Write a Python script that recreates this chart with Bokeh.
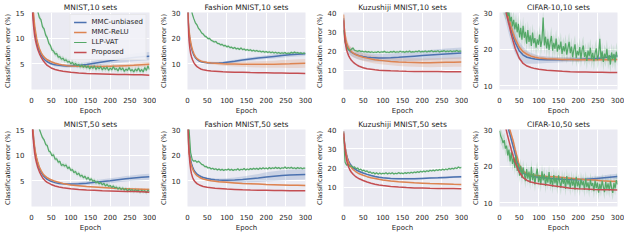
from bokeh.plotting import figure
from bokeh.layouts import gridplot
from bokeh.models import Range1d, FixedTicker, Legend, LegendItem
from bokeh.embed import file_html
from bokeh.resources import INLINE

# ---------------- data ----------------
EPOCHS = [0, 2, 4, 6, 8, 10, 13, 16, 20, 25, 30, 35, 40, 50, 60, 70, 80, 90, 100,
          120, 140, 160, 180, 200, 220, 240, 260, 280, 300]
X_TICKS = [0, 50, 100, 150, 200, 250, 300]
SERIES_NAMES = ["MMC-unbiased", "MMC-ReLU", "LLP-VAT", "Proposed"]

# MNIST, 10 sets
mn10_red = [22, 16, 13.5, 11.8, 10.5, 9.6, 8.6, 7.8, 7.0, 6.2, 5.6, 5.1, 4.7, 4.2, 3.9, 3.7, 3.55, 3.45, 3.35,
            3.2, 3.1, 3.05, 3.0, 2.95, 2.9, 2.9, 2.85, 2.85, 2.8]
mn10_orange = [25, 19, 16, 14, 12.5, 11.4, 10.0, 9.0, 8.0, 7.1, 6.5, 6.1, 5.8, 5.4, 5.1, 4.9, 4.75, 4.65, 4.6,
               4.55, 4.5, 4.5, 4.5, 4.55, 4.6, 4.65, 4.7, 4.8, 4.9]
mn10_orange_sd = [0.4, 0.4, 0.3, 0.3, 0.3, 0.3, 0.2, 0.2, 0.2, 0.2, 0.2, 0.2, 0.2, 0.2, 0.2, 0.2, 0.2, 0.2, 0.2,
                  0.2, 0.25, 0.25, 0.3, 0.3, 0.35, 0.35, 0.4, 0.4, 0.45]
mn10_blue = [24, 18, 15, 13, 11.6, 10.6, 9.4, 8.4, 7.5, 6.7, 6.1, 5.7, 5.4, 5.0, 4.8, 4.7, 4.65, 4.6, 4.6,
             4.7, 4.85, 5.1, 5.35, 5.6, 5.85, 6.05, 6.25, 6.4, 6.5]
mn10_blue_sd = [0.5, 0.5, 0.4, 0.4, 0.3, 0.3, 0.3, 0.3, 0.3, 0.3, 0.3, 0.3, 0.3, 0.3, 0.3, 0.3, 0.3, 0.35, 0.35,
                0.4, 0.45, 0.5, 0.55, 0.6, 0.65, 0.7, 0.75, 0.8, 0.8]
mn10_green = [30, 24, 19, 16.5, 15.2, 14.0, 13.6, 12.2, 11.8, 10.6, 10.1, 9.0, 8.6, 7.7, 7.5, 6.9, 7.0, 6.3, 6.4,
              5.9, 6.1, 5.6, 5.8, 5.3, 5.5, 5.0, 5.3, 4.8, 5.1, 4.6, 4.9, 4.4, 4.8, 4.3, 4.7, 4.2, 4.6, 4.0,
              4.5, 4.1, 4.6, 3.9, 4.4, 4.0, 4.5, 3.8, 4.3, 3.9, 4.4, 3.7, 4.2, 3.8, 4.5, 3.9, 4.1, 3.6, 4.3,
              3.8, 4.2, 3.5, 4.0, 3.7, 4.3, 3.6, 3.9, 3.4, 4.0, 3.6, 4.2, 3.5, 3.9, 3.4, 4.3, 3.7, 4.6, 3.9]

# Fashion MNIST, 10 sets
fm10_red = [32, 24, 19, 16, 14, 12.8, 11.5, 10.5, 9.6, 8.8, 8.3, 7.9, 7.7, 7.4, 7.2, 7.1, 7.0, 6.9, 6.85,
            6.75, 6.7, 6.6, 6.55, 6.5, 6.45, 6.4, 6.35, 6.3, 6.25]
fm10_orange = [34, 27, 23, 20.5, 18.5, 17, 15.3, 14.0, 12.8, 11.9, 11.4, 11.0, 10.8, 10.5, 10.3, 10.2, 10.1, 10.0, 9.95,
               9.9, 9.85, 9.8, 9.8, 9.8, 9.85, 9.95, 10.0, 10.1, 10.2]
fm10_orange_sd = [0.6, 0.6, 0.5, 0.5, 0.5, 0.4, 0.4, 0.4, 0.4, 0.4, 0.4, 0.4, 0.5, 0.5, 0.6, 0.6, 0.7, 0.7, 0.8,
                  0.9, 1.0, 1.1, 1.2, 1.3, 1.4, 1.5, 1.6, 1.7, 1.7]
fm10_blue = [33, 26, 22, 19.5, 17.5, 16.2, 14.6, 13.4, 12.4, 11.6, 11.1, 10.8, 10.6, 10.4, 10.3, 10.25, 10.3, 10.4, 10.6,
             11.0, 11.5, 11.9, 12.3, 12.6, 12.9, 13.2, 13.5, 13.7, 13.9]
fm10_blue_sd = [0.5, 0.5, 0.4, 0.4, 0.4, 0.3, 0.3, 0.3, 0.3, 0.3, 0.3, 0.3, 0.3, 0.3, 0.3, 0.35, 0.4, 0.45, 0.5,
                0.55, 0.6, 0.65, 0.7, 0.75, 0.8, 0.8, 0.8, 0.8, 0.8]
fm10_green = [45, 38, 33, 29.5, 27.6, 26.0, 25.2, 23.8, 23.1, 22.0, 21.6, 20.8, 20.5, 19.8, 19.9, 19.2, 18.9, 18.5,
              18.7, 18.0, 17.9, 17.4, 17.6, 17.0, 17.2, 16.6, 16.9, 16.3, 16.5, 16.0, 16.4, 15.8, 16.1, 15.6, 16.2,
              15.5, 15.8, 15.3, 15.6, 15.2, 15.5, 15.0, 15.3, 14.9, 15.2, 14.8, 15.0, 14.6, 14.9, 14.5, 14.8, 14.4,
              14.7, 14.3, 14.6, 14.2, 14.5, 14.1, 14.4, 14.0, 14.3, 14.1, 14.4, 13.9, 14.2, 14.0, 14.5, 14.1, 14.6,
              14.2, 14.4, 14.0, 14.3, 13.9, 14.2, 14.0]

# Kuzushiji MNIST, 10 sets
km10_red = [36, 29, 25, 22.5, 20.5, 19.2, 17.6, 16.4, 15.2, 14.1, 13.3, 12.6, 12.1, 11.3, 10.8, 10.5, 10.2, 10.0, 9.9,
            9.7, 9.55, 9.45, 9.4, 9.35, 9.3, 9.3, 9.25, 9.2, 9.2]
km10_orange = [39, 32, 28.5, 26, 24.3, 23.0, 21.6, 20.6, 19.7, 18.9, 18.3, 17.8, 17.4, 16.8, 16.3, 15.9, 15.5, 15.2, 15.0,
               14.6, 14.3, 14.1, 14.0, 13.9, 13.9, 14.0, 14.1, 14.2, 14.3]
km10_orange_sd = [3.0, 3.0, 2.8, 2.6, 2.5, 2.4, 2.3, 2.2, 2.2, 2.1, 2.1, 2.0, 2.0, 2.0, 2.0, 2.0, 2.0, 2.0, 2.0,
                  2.0, 2.1, 2.1, 2.2, 2.2, 2.3, 2.3, 2.4, 2.4, 2.5]
km10_blue = [37, 30, 26.5, 24.3, 22.8, 21.8, 20.8, 20.1, 19.4, 18.8, 18.3, 17.9, 17.6, 17.1, 16.8, 16.6, 16.5, 16.4, 16.4,
             16.5, 16.7, 17.0, 17.3, 17.6, 17.9, 18.2, 18.5, 18.7, 18.9]
km10_blue_sd = [3.0, 3.0, 2.8, 2.6, 2.5, 2.4, 2.3, 2.2, 2.1, 2.0, 2.0, 2.0, 2.0, 2.0, 2.0, 2.0, 2.0, 2.0, 2.0,
                2.1, 2.2, 2.3, 2.4, 2.5, 2.6, 2.7, 2.8, 2.8, 2.9]
km10_green = [31, 24.5, 22.0, 20.8, 20.3, 20.9, 21.6, 20.4, 20.1, 19.8, 20.2, 19.7, 19.9, 19.5, 19.8, 19.4, 19.7, 19.3,
              19.6, 19.2, 19.5, 19.3, 19.7, 19.2, 19.6, 19.4, 19.8, 19.3, 19.5, 19.2, 19.7, 19.4, 19.8, 19.3, 19.6,
              19.4, 19.9, 19.5, 19.7, 19.3, 19.8, 19.5, 20.0, 19.4, 19.7, 19.5, 19.9, 19.6, 20.1, 19.5, 19.8, 19.6,
              20.0, 19.5, 19.9, 19.7, 20.2, 19.6, 19.9, 19.7, 20.1, 19.5, 19.9, 19.8, 20.2, 19.6, 20.0, 19.7, 20.1,
              19.6, 20.0, 19.8, 20.3, 19.7, 20.0, 19.8]

# CIFAR-10, 10 sets
cf10_red = [42, 40, 38.5, 37, 35.5, 34, 32, 30.3, 28.5, 26.3, 24.0, 22.0, 20.2, 17.6, 16.1, 15.4, 15.0, 14.7, 14.5,
            14.25, 14.1, 13.95, 13.85, 13.8, 13.75, 13.7, 13.7, 13.65, 13.65]
cf10_orange = [44, 42, 40, 38.5, 37, 35.5, 34, 32.5, 30.5, 28.0, 26.0, 24.3, 22.8, 20.6, 19.3, 18.6, 18.1, 17.8, 17.6,
               17.4, 17.3, 17.2, 17.2, 17.1, 17.2, 17.1, 17.2, 17.1, 17.2]
cf10_orange_sd = [1.5, 1.5, 1.5, 1.4, 1.4, 1.3, 1.3, 1.2, 1.2, 1.1, 1.1, 1.0, 1.0, 0.9, 0.8, 0.7, 0.6, 0.6, 0.5,
                  0.5, 0.5, 0.5, 0.5, 0.5, 0.5, 0.5, 0.5, 0.5, 0.5]
cf10_blue = [43, 41, 39, 37.5, 36, 34.5, 32.6, 31, 29.2, 27, 25, 23.3, 21.8, 19.6, 18.4, 17.8, 17.5, 17.3, 17.2,
             17.1, 17.1, 17.1, 17.2, 17.2, 17.3, 17.4, 17.6, 17.9, 18.2]
cf10_blue_sd = [4.0, 4.0, 4.0, 4.0, 4.0, 4.0, 3.8, 3.6, 3.5, 3.4, 3.3, 3.2, 3.0, 2.6, 2.2, 1.8, 1.5, 1.3, 1.1,
                0.9, 0.8, 0.7, 0.7, 0.6, 0.6, 0.6, 0.6, 0.6, 0.6]
cf10_green = [36, 34, 33.5, 32, 31.6, 30.4, 31.2, 29.0, 30.1, 27.6, 28.8, 26.2, 28.0, 25.4, 27.3, 24.6, 26.9, 23.2,
              25.8, 22.6, 26.4, 23.1, 24.7, 21.5, 25.2, 22.0, 23.8, 20.9, 24.5, 21.6, 23.0, 20.4, 22.7, 21.2, 24.0,
              20.6, 22.5, 28.6, 21.0, 23.4, 20.2, 22.8, 19.8, 21.9, 23.6, 19.6, 21.7, 20.1, 22.9, 19.3, 21.2, 19.9,
              22.1, 18.7, 20.8, 19.4, 21.6, 18.5, 20.3, 22.0, 18.9, 20.7, 17.8, 19.9, 21.3, 17.6, 19.5, 18.3, 20.6,
              17.4, 19.8, 21.0, 17.9, 19.2, 16.8, 19.6, 18.1, 20.4, 17.2, 19.0, 16.7, 18.9, 20.2, 17.0, 18.6, 22.8,
              17.3, 19.4, 16.5, 18.8, 17.6, 20.1, 16.9, 18.4, 15.8, 19.1, 17.2, 18.7, 16.4, 19.3, 17.8]

# MNIST, 50 sets
mn50_red = [18, 15.5, 13.5, 11.8, 10.4, 9.4, 8.4, 7.6, 6.8, 6.0, 5.4, 5.0, 4.7, 4.3, 4.0, 3.8, 3.65, 3.55, 3.45,
            3.3, 3.2, 3.15, 3.05, 3.0, 2.95, 2.9, 2.9, 2.85, 2.8]
mn50_orange = [22, 17, 14.6, 12.9, 11.6, 10.6, 9.5, 8.6, 7.7, 6.9, 6.3, 5.9, 5.6, 5.2, 4.9, 4.7, 4.5, 4.35, 4.2,
               4.05, 3.9, 3.8, 3.7, 3.6, 3.5, 3.45, 3.4, 3.35, 3.3]
mn50_orange_sd = [0.3, 0.3, 0.3, 0.2, 0.2, 0.2, 0.2, 0.2, 0.2, 0.2, 0.15, 0.15, 0.15, 0.15, 0.15, 0.15, 0.15, 0.15,
                  0.15, 0.15, 0.15, 0.15, 0.15, 0.15, 0.15, 0.15, 0.2, 0.2, 0.2]
mn50_blue = [21, 16.5, 14.2, 12.6, 11.3, 10.3, 9.2, 8.3, 7.4, 6.6, 6.0, 5.6, 5.3, 4.9, 4.65, 4.5, 4.45, 4.4, 4.4,
             4.45, 4.55, 4.7, 4.85, 5.0, 5.2, 5.4, 5.55, 5.7, 5.8]
mn50_blue_sd = [0.3, 0.3, 0.3, 0.2, 0.2, 0.2, 0.2, 0.2, 0.2, 0.2, 0.2, 0.2, 0.2, 0.2, 0.2, 0.2, 0.2, 0.2, 0.25,
                0.3, 0.35, 0.4, 0.45, 0.5, 0.5, 0.55, 0.55, 0.6, 0.6]
mn50_green = [30, 24, 20, 17.5, 16.0, 15.1, 14.2, 13.4, 13.0, 12.1, 11.9, 10.8, 10.6, 9.9, 10.1, 9.2, 9.3, 8.6, 8.8,
              8.0, 8.2, 7.9, 8.1, 7.4, 7.7, 7.0, 7.2, 6.6, 6.8, 6.2, 6.5, 5.9, 6.1, 5.6, 5.9, 5.3, 5.7, 5.1, 5.4,
              4.9, 5.1, 4.6, 4.9, 4.4, 4.7, 4.2, 4.5, 4.0, 4.3, 3.9, 4.1, 3.7, 4.0, 3.6, 3.8, 3.4, 3.7, 3.3, 3.6,
              3.2, 3.5, 3.0, 3.4, 3.1, 3.3, 2.9, 3.3, 3.0, 3.2, 2.8, 3.2, 2.9, 3.1, 2.7, 3.2, 2.9]

# Fashion MNIST, 50 sets
fm50_red = [34, 28, 21, 17, 14.5, 12.8, 11.3, 10.3, 9.5, 8.8, 8.4, 8.1, 7.8, 7.5, 7.3, 7.1, 7.0, 6.9, 6.8,
            6.65, 6.5, 6.4, 6.35, 6.3, 6.25, 6.2, 6.15, 6.1, 6.1]
fm50_orange = [32, 25, 21, 18.8, 17.2, 16.0, 14.6, 13.6, 12.7, 11.9, 11.4, 11.0, 10.7, 10.3, 10.0, 9.8, 9.6, 9.5, 9.4,
               9.2, 9.0, 8.9, 8.75, 8.6, 8.5, 8.4, 8.3, 8.25, 8.2]
fm50_orange_sd = [0.6, 0.5, 0.5, 0.4, 0.4, 0.3, 0.3, 0.3, 0.3, 0.3, 0.3, 0.3, 0.3, 0.3, 0.3, 0.3, 0.3, 0.3, 0.3,
                  0.3, 0.3, 0.3, 0.3, 0.3, 0.3, 0.3, 0.3, 0.3, 0.3]
fm50_blue = [33, 26, 22, 19.8, 18.1, 16.8, 15.4, 14.3, 13.3, 12.5, 12.0, 11.6, 11.3, 10.9, 10.6, 10.4, 10.3, 10.25, 10.2,
             10.3, 10.5, 10.8, 11.1, 11.5, 11.8, 12.1, 12.3, 12.4, 12.5]
fm50_blue_sd = [0.6, 0.5, 0.5, 0.4, 0.4, 0.4, 0.4, 0.4, 0.4, 0.4, 0.4, 0.4, 0.4, 0.4, 0.5, 0.5, 0.6, 0.7, 0.8,
                1.0, 1.2, 1.4, 1.6, 1.8, 1.9, 2.0, 2.0, 2.0, 2.0]
fm50_green = [38, 30, 21, 18.3, 17.6, 17.9, 17.2, 17.6, 17.1, 16.4, 16.2, 15.5, 15.6, 15.0, 15.2, 14.6, 14.9, 14.4,
              14.7, 14.2, 14.6, 14.1, 14.5, 14.0, 14.4, 14.2, 14.6, 14.1, 14.5, 14.0, 14.4, 14.2, 14.7, 14.1, 14.5,
              14.3, 14.8, 14.2, 14.6, 14.3, 14.8, 14.4, 14.9, 14.5, 14.9, 14.4, 15.0, 14.6, 15.1, 14.7, 15.0, 14.6,
              15.2, 14.7, 15.1, 14.8, 15.3, 14.8, 15.2, 14.7, 15.1, 14.9, 15.4, 14.8, 15.2, 14.9, 15.3, 14.8, 15.1,
              14.7, 15.2, 14.8, 15.1, 14.7, 15.0, 14.9]

# Kuzushiji MNIST, 50 sets
km50_red = [38, 33, 29.5, 26.5, 24, 22.3, 20.5, 19.1, 17.8, 16.6, 15.7, 15.0, 14.4, 13.5, 12.7, 12.1, 11.6, 11.2, 10.9,
            10.4, 10.1, 9.85, 9.65, 9.55, 9.45, 9.4, 9.35, 9.3, 9.25]
km50_orange = [39, 34, 31, 28.5, 26.3, 24.6, 22.8, 21.5, 20.2, 19.1, 18.3, 17.6, 17.0, 16.2, 15.5, 14.9, 14.5, 14.1, 13.8,
               13.3, 12.9, 12.6, 12.3, 12.1, 11.9, 11.8, 11.65, 11.5, 11.4]
km50_orange_sd = [1.0, 0.8, 0.6, 0.5, 0.5, 0.4, 0.4, 0.3, 0.3, 0.3, 0.3, 0.3, 0.3, 0.3, 0.3, 0.3, 0.3, 0.3, 0.3,
                  0.3, 0.3, 0.3, 0.3, 0.3, 0.3, 0.3, 0.3, 0.3, 0.3]
km50_blue = [39, 34, 31, 28.7, 26.8, 25.2, 23.6, 22.4, 21.2, 20.1, 19.3, 18.7, 18.2, 17.4, 16.7, 16.1, 15.6, 15.2, 14.9,
             14.6, 14.45, 14.4, 14.45, 14.6, 14.75, 14.9, 15.1, 15.3, 15.5]
km50_blue_sd = [1.0, 0.8, 0.7, 0.6, 0.6, 0.5, 0.5, 0.5, 0.5, 0.5, 0.5, 0.5, 0.5, 0.5, 0.5, 0.5, 0.5, 0.5, 0.5,
                0.5, 0.5, 0.5, 0.5, 0.5, 0.5, 0.5, 0.5, 0.5, 0.5]
km50_green = [36, 23.0, 21.5, 21.9, 20.8, 21.2, 20.1, 20.6, 19.6, 20.0, 19.0, 19.4, 18.5, 18.9, 18.1, 18.5, 17.6, 18.0,
              17.2, 17.7, 16.9, 17.5, 16.8, 17.4, 16.9, 17.3, 17.0, 17.5, 16.9, 17.4, 17.0, 17.5, 16.9, 17.3, 17.0,
              17.6, 17.1, 17.4, 17.0, 17.6, 17.2, 17.7, 17.3, 17.8, 17.4, 17.9, 17.6, 18.1, 17.7, 18.3, 17.9, 18.4,
              18.0, 18.6, 18.2, 18.8, 18.4, 18.9, 18.5, 19.1, 18.7, 19.2, 18.8, 19.4, 19.0, 19.5, 19.1, 19.8, 19.3,
              19.9, 19.5, 20.1, 19.7, 20.5, 20.0, 20.3]

# CIFAR-10, 50 sets
cf50_red = [42, 40, 38.5, 37, 35.5, 34, 32, 30.4, 28.6, 26.5, 24.5, 22.7, 21.0, 18.4, 16.9, 16.1, 15.7, 15.4, 15.2,
            14.9, 14.6, 14.3, 14.0, 13.85, 13.75, 13.65, 13.6, 13.55, 13.5]
cf50_orange = [46, 44, 42.5, 41, 39.5, 38, 36, 34.2, 32.2, 30.4, 28.6, 26.8, 24.5, 20.4, 18.6, 18.0, 17.7, 17.5, 17.4,
               17.2, 17.1, 16.9, 16.7, 16.5, 16.3, 16.2, 16.0, 15.9, 15.8]
cf50_orange_sd = [0.8, 0.8, 0.8, 0.8, 0.8, 0.8, 0.8, 0.8, 0.8, 0.8, 0.8, 0.7, 0.6, 0.5, 0.4, 0.3, 0.3, 0.3, 0.3,
                  0.3, 0.3, 0.3, 0.3, 0.3, 0.3, 0.3, 0.3, 0.3, 0.3]
cf50_blue = [45, 43, 41.5, 40, 38.5, 37, 35, 33.2, 31.2, 29.3, 27.3, 25.3, 23.2, 19.5, 18.2, 17.6, 17.3, 17.1, 17.0,
             16.8, 16.6, 16.45, 16.35, 16.3, 16.4, 16.6, 16.8, 17.0, 17.2]
cf50_blue_sd = [1.5, 1.5, 1.5, 1.5, 1.5, 1.5, 1.4, 1.3, 1.2, 1.1, 1.0, 0.9, 0.8, 0.6, 0.5, 0.4, 0.4, 0.4, 0.4,
                0.4, 0.4, 0.4, 0.4, 0.5, 0.5, 0.6, 0.6, 0.7, 0.7]
cf50_green = [29.6, 28.2, 27.5, 26.3, 27.1, 24.8, 25.6, 22.9, 24.5, 21.3, 23.8, 20.6, 22.4, 19.5, 22.9, 18.7, 20.8,
              17.4, 20.1, 16.8, 19.7, 17.9, 15.9, 19.2, 16.6, 18.5, 15.4, 19.8, 16.2, 18.1, 15.0, 17.7, 19.3, 15.6,
              17.4, 14.9, 18.6, 16.1, 17.9, 14.6, 17.2, 15.5, 18.4, 15.1, 16.8, 14.4, 17.6, 15.3, 16.9, 14.2, 17.5,
              15.8, 14.1, 17.0, 15.2, 16.6, 13.8, 17.3, 15.0, 16.4, 13.9, 16.8, 14.7, 16.2, 13.6, 17.1, 14.5, 16.0,
              13.7, 16.5, 14.8, 15.9, 13.5, 16.7, 14.3, 15.6, 13.4, 16.3, 14.6, 15.4, 13.2, 16.1, 14.0, 15.5, 12.8,
              15.2, 13.6, 16.0, 14.4, 12.9, 15.7, 13.8, 15.3, 13.3, 15.9, 14.1, 12.7, 15.4, 13.9, 16.2, 15.0]

# title, y-limits, y-ticks, red, orange, orange_sd, blue, blue_sd, green, green step, green sd
PANELS = [
    ("MNIST,10 sets", (0, 15), [5, 10, 15], mn10_red, mn10_orange, mn10_orange_sd, mn10_blue, mn10_blue_sd, mn10_green, 4, 0.5),
    ("Fashion MNIST,10 sets", (0, 30), [10, 20, 30], fm10_red, fm10_orange, fm10_orange_sd, fm10_blue, fm10_blue_sd, fm10_green, 4, 0.5),
    ("Kuzushiji MNIST,10 sets", (0, 40), [10, 20, 30, 40], km10_red, km10_orange, km10_orange_sd, km10_blue, km10_blue_sd, km10_green, 4, 0.6),
    ("CIFAR-10,10 sets", (9, 30), [10, 20, 30], cf10_red, cf10_orange, cf10_orange_sd, cf10_blue, cf10_blue_sd, cf10_green, 3, 2.5),
    ("MNIST,50 sets", (0, 15), [5, 10, 15], mn50_red, mn50_orange, mn50_orange_sd, mn50_blue, mn50_blue_sd, mn50_green, 4, 0.4),
    ("Fashion MNIST,50 sets", (0, 30), [10, 20, 30], fm50_red, fm50_orange, fm50_orange_sd, fm50_blue, fm50_blue_sd, fm50_green, 4, 0.4),
    ("Kuzushiji MNIST,50 sets", (0, 40), [10, 20, 30, 40], km50_red, km50_orange, km50_orange_sd, km50_blue, km50_blue_sd, km50_green, 4, 0.5),
    ("CIFAR-10,50 sets", (9, 30), [10, 20, 30], cf50_red, cf50_orange, cf50_orange_sd, cf50_blue, cf50_blue_sd, cf50_green, 3, 2.0),
]

# ---------------- style ----------------
BG = "#EAEAF2"
BLUE, ORANGE, GREEN, RED = "#4C72B0", "#DD8452", "#55A868", "#C44E52"
FONT = "DejaVu Sans"
TXT = "#262626"


def make_panel(spec, with_legend):
    title, ylim, yticks, red, orange, orange_sd, blue, blue_sd, green, gstep, gsd = spec
    p = figure(width=156, height=117, output_backend="svg", toolbar_location=None,
               x_range=Range1d(0, 300), y_range=Range1d(*ylim),
               min_border_left=0, min_border_right=7, min_border_top=0, min_border_bottom=0,
               background_fill_color=BG, border_fill_color="white", outline_line_color=None)
    p.title.text = title
    p.title.text_font = FONT
    p.title.text_font_size = "7.5px"
    p.title.text_font_style = "normal"
    p.title.text_color = TXT
    p.title.align = "center"
    p.title.standoff = 1
    p.title.offset = 0

    for ax in (p.xaxis[0], p.yaxis[0]):
        ax.axis_line_color = None
        ax.major_tick_line_color = None
        ax.minor_tick_line_color = None
        ax.major_label_text_font = FONT
        ax.major_label_text_font_size = "7px"
        ax.major_label_text_color = TXT
        ax.major_label_standoff = 1
        ax.axis_label_text_font = FONT
        ax.axis_label_text_font_style = "normal"
        ax.axis_label_text_color = TXT
        ax.axis_label_standoff = 1
    p.xaxis.ticker = FixedTicker(ticks=X_TICKS)
    p.yaxis.ticker = FixedTicker(ticks=yticks)
    p.xaxis.axis_label = "Epoch"
    p.xaxis.axis_label_text_font_size = "7px"
    p.yaxis.axis_label = "Classification error (%)"
    p.yaxis.axis_label_text_font_size = "6.5px"
    p.xgrid.grid_line_color = "white"
    p.ygrid.grid_line_color = "white"
    p.xgrid.grid_line_width = 1
    p.ygrid.grid_line_width = 1

    gx = [i * gstep for i in range(len(green))]
    # bands
    p.varea(x=EPOCHS, y1=[m - s for m, s in zip(blue, blue_sd)], y2=[m + s for m, s in zip(blue, blue_sd)],
            fill_color=BLUE, fill_alpha=0.2)
    p.varea(x=EPOCHS, y1=[m - s for m, s in zip(orange, orange_sd)], y2=[m + s for m, s in zip(orange, orange_sd)],
            fill_color=ORANGE, fill_alpha=0.2)
    p.varea(x=gx, y1=[g - gsd for g in green], y2=[g + gsd for g in green], fill_color=GREEN, fill_alpha=0.2)
    # lines
    lb = p.line(EPOCHS, blue, line_color=BLUE, line_width=1.5)
    lo = p.line(EPOCHS, orange, line_color=ORANGE, line_width=1.5)
    lg = p.line(gx, green, line_color=GREEN, line_width=1.2)
    lr = p.line(EPOCHS, red, line_color=RED, line_width=1.5)

    if with_legend:
        leg = Legend(items=[LegendItem(label=n, renderers=[r]) for n, r in zip(SERIES_NAMES, [lb, lo, lg, lr])],
                     location="top_right")
        leg.label_text_font = FONT
        leg.label_text_font_size = "7px"
        leg.label_text_color = TXT
        leg.label_height = 8
        leg.glyph_height = 8
        leg.glyph_width = 13
        leg.spacing = 2
        leg.padding = 3
        leg.margin = 2
        leg.background_fill_color = "#F2F2F7"
        leg.background_fill_alpha = 0.9
        leg.border_line_color = "#DDDDDD"
        leg.border_line_width = 1
        p.add_layout(leg)
    return p


figs = [make_panel(s, i == 0) for i, s in enumerate(PANELS)]
grid = gridplot([figs[:4], figs[4:]], toolbar_location=None)

open("out.html", "w").write(file_html(grid, INLINE))
